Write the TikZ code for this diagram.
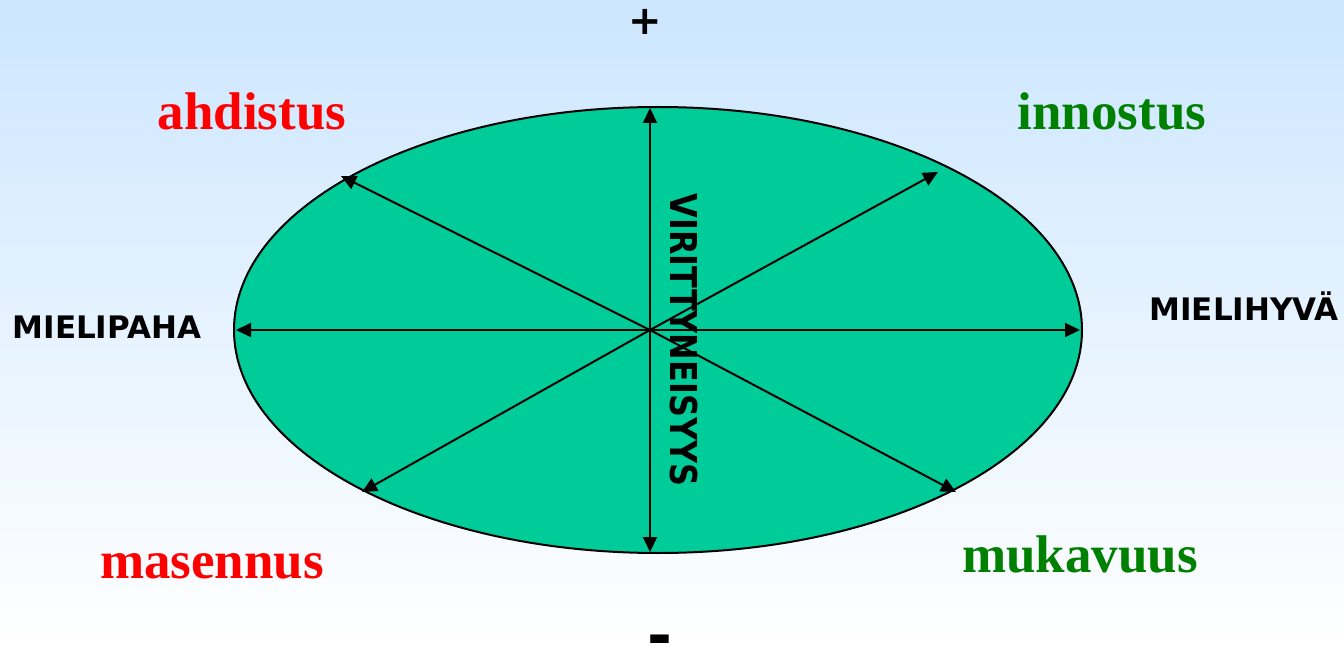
\documentclass[tikz,border=0pt]{standalone}
\usepackage{fontspec}
\setmainfont{Liberation Serif}
\newfontfamily\labelfont{DejaVu Sans}
\usetikzlibrary{arrows.meta,shapes.geometric}
\definecolor{bgtop}{RGB}{204,230,255}
\definecolor{ellfill}{RGB}{0,204,153}
\definecolor{darkgreen}{RGB}{0,128,0}
\tikzset{
  axisarrow/.style={line width=2pt,-{Triangle[length=15pt,width=14pt]}},
  emo/.style={font=\fontsize{53}{60}\selectfont\bfseries, anchor=base},
  negemo/.style={emo, text=red},
  posemo/.style={emo, text=darkgreen},
  side/.style={font=\labelfont\bfseries\fontsize{31}{36}\selectfont, anchor=base, inner sep=0pt},
  sign/.style={font=\labelfont\bfseries\fontsize{40}{40}\selectfont, inner sep=0pt},
}
\begin{document}
\begin{tikzpicture}[x=1pt,y=-1pt]
\shade[top color=bgtop, bottom color=white] (0,0) rectangle (1344,647);
\useasboundingbox (0,0) rectangle (1344,647);
\node[ellipse, draw, line width=2pt, fill=ellfill, minimum width=848pt, minimum height=446pt, inner sep=0pt] (E) at (658,330) {};
\coordinate (c) at (650,330);
\coordinate (up) at (650,108);
\coordinate (dn) at (650,552);
\coordinate (lf) at (236,330);
\coordinate (rt) at (1080,330);
\coordinate (ul) at (341,176);
\coordinate (ur) at (938,172);
\coordinate (ll) at (362,492);
\coordinate (lr) at (956,492);
\foreach \t in {up,dn,lf,rt,ul,ur,ll,lr} \draw[axisarrow] (c) -- (\t);
\node[rotate=-90, inner sep=0pt, font=\labelfont\bfseries\fontsize{37}{40}\selectfont] (v) at (684,340) {\scalebox{0.86}[1]{VIRITTYNEISYYS}};
\node[negemo] (a) at (252,130) {ahdistus};
\node[posemo] (i) at (1112,130) {innostus};
\node[negemo] (m) at (212,578) {masennus};
\node[posemo] (k) at (1080,572) {mukavuus};
\node[side] (mp) at (107,338) {MIELIPAHA};
\node[side] (mh) at (1244,320) {MIELIHYVÄ};
\node[sign] (plus) at (645,22) {+};
\node[sign] (minus) at (660,646) {\scalebox{1.5}[1.5]{-}};
\end{tikzpicture}
\end{document}
